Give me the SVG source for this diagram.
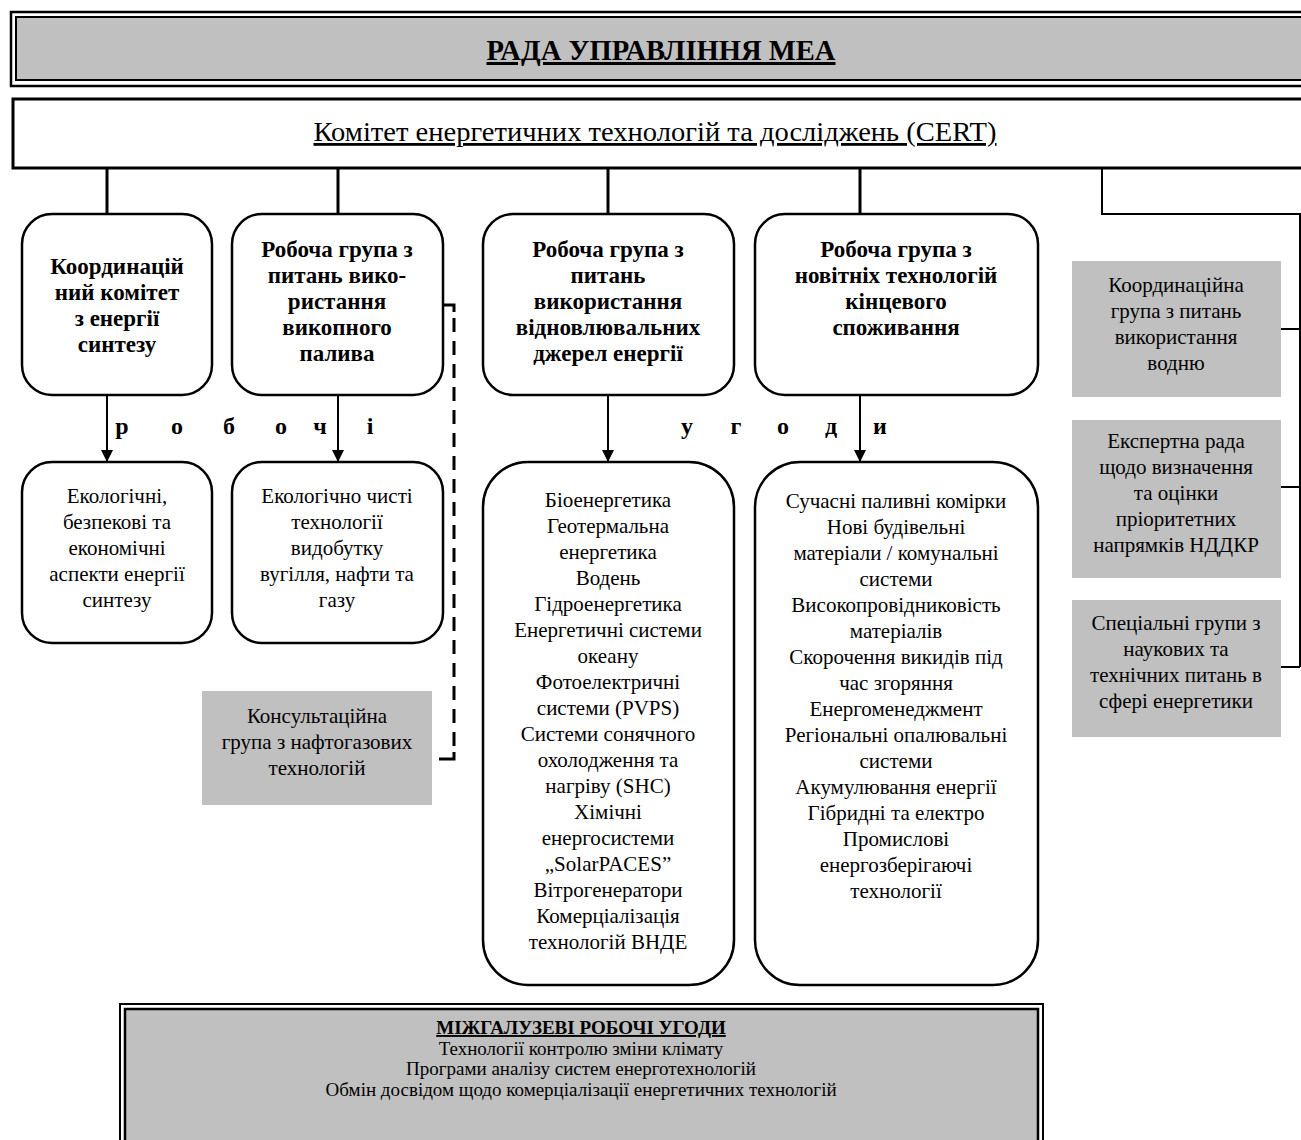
<svg xmlns="http://www.w3.org/2000/svg" width="1301" height="1140" viewBox="0 0 1301 1140">
<defs>
<style>
.t{font-family:"Liberation Serif","Times New Roman",serif;fill:#000;text-anchor:middle}
.b{font-weight:bold;font-size:23px}
.r{font-size:21px}
.lt{font-weight:bold;font-size:24px}
.box{fill:#fff;stroke:#000;stroke-width:2.5}
.gray{fill:#c0c0c0;stroke:none}
.ln{stroke:#000;stroke-width:3;fill:none}
.thin{stroke:#000;stroke-width:2;fill:none}
.arr{stroke:#000;stroke-width:2;fill:none;marker-end:url(#ah)}
.dash{stroke:#000;stroke-width:3;fill:none;stroke-dasharray:14 9}
</style>
<marker id="ah" viewBox="0 0 12 12" refX="12" refY="6" markerWidth="12" markerHeight="12" markerUnits="userSpaceOnUse" orient="auto">
<path d="M0,0 L12,6 L0,12 Z" fill="#000"/>
</marker>
</defs>
<rect width="1301" height="1140" fill="#fff"/>

<g id="header">
<rect x="11" y="12" width="1300" height="74" fill="#fff" stroke="#000" stroke-width="2.5"/>
<rect x="16" y="17" width="1300" height="63" fill="#c0c0c0" stroke="#000" stroke-width="2"/>
<text class="t" x="661" y="60" font-size="30" font-weight="bold" text-decoration="underline" textLength="349" lengthAdjust="spacingAndGlyphs">РАДА УПРАВЛІННЯ МЕА</text>
</g>

<g id="cert">
<rect x="13" y="99" width="1300" height="69" fill="#fff" stroke="#000" stroke-width="3"/>
<text class="t" x="655" y="141" font-size="28" text-decoration="underline" textLength="683" lengthAdjust="spacingAndGlyphs">Комітет енергетичних технологій та досліджень (CERT)</text>
</g>

<g id="connectors">
<line class="ln" x1="107" y1="168" x2="107" y2="214"/>
<line class="ln" x1="338" y1="168" x2="338" y2="214"/>
<line class="ln" x1="608" y1="168" x2="608" y2="214"/>
<line class="ln" x1="860" y1="168" x2="860" y2="214"/>
<polyline class="thin" points="1102,168 1102,214 1300,214 1300,667"/>
<line class="thin" x1="1281" y1="329" x2="1300" y2="329"/>
<line class="thin" x1="1281" y1="487" x2="1300" y2="487"/>
<line class="thin" x1="1281" y1="667" x2="1300" y2="667"/>
<line class="arr" x1="107" y1="395" x2="107" y2="462"/>
<line class="arr" x1="338" y1="395" x2="338" y2="462"/>
<line class="arr" x1="608" y1="395" x2="608" y2="462"/>
<line class="arr" x1="860" y1="395" x2="860" y2="462"/>
<polyline class="ln" points="443,305 454,305 454,312"/>
<line class="dash" x1="454" y1="318" x2="454" y2="752"/>
<polyline class="ln" points="454,752 454,759 439,759"/>
</g>

<g id="label-robochi" class="t lt">
<text x="122" y="434">р</text>
<text x="177" y="434">о</text>
<text x="229" y="434">б</text>
<text x="281" y="434">о</text>
<text x="320" y="434">ч</text>
<text x="370" y="434">і</text>
</g>
<g id="label-ugody" class="t lt">
<text x="687" y="434">у</text>
<text x="736" y="434">г</text>
<text x="783" y="434">о</text>
<text x="831" y="434">д</text>
<text x="880" y="434">и</text>
</g>

<g id="n-fusion">
<rect class="box" x="22" y="214" width="190" height="181" rx="30"/>
<text class="t b"><tspan x="117" y="274">Координацій</tspan><tspan x="117" y="300">ний комітет</tspan><tspan x="117" y="326">з енергії</tspan><tspan x="117" y="352">синтезу</tspan></text>
</g>
<g id="n-fossil">
<rect class="box" x="232" y="214" width="211" height="181" rx="30"/>
<text class="t b"><tspan x="337" y="257">Робоча група з</tspan><tspan x="337" y="283">питань вико-</tspan><tspan x="337" y="309">ристання</tspan><tspan x="337" y="335">викопного</tspan><tspan x="337" y="361">палива</tspan></text>
</g>
<g id="n-renew">
<rect class="box" x="483" y="214" width="251" height="181" rx="30"/>
<text class="t b"><tspan x="608" y="257">Робоча група з</tspan><tspan x="608" y="283">питань</tspan><tspan x="608" y="309">використання</tspan><tspan x="608" y="335">відновлювальних</tspan><tspan x="608" y="361">джерел енергії</tspan></text>
</g>
<g id="n-enduse">
<rect class="box" x="755" y="214" width="283" height="181" rx="30"/>
<text class="t b"><tspan x="896" y="257">Робоча група з</tspan><tspan x="896" y="283">новітніх технологій</tspan><tspan x="896" y="309">кінцевого</tspan><tspan x="896" y="335">споживання</tspan></text>
</g>

<g id="n-fusion-ag">
<rect class="box" x="22" y="462" width="190" height="181" rx="30"/>
<text class="t r"><tspan x="117" y="503">Екологічні,</tspan><tspan x="117" y="529">безпекові та</tspan><tspan x="117" y="555">економічні</tspan><tspan x="117" y="581">аспекти енергії</tspan><tspan x="117" y="607">синтезу</tspan></text>
</g>
<g id="n-fossil-ag">
<rect class="box" x="232" y="462" width="211" height="181" rx="30"/>
<text class="t r"><tspan x="337" y="503">Екологічно чисті</tspan><tspan x="337" y="529">технології</tspan><tspan x="337" y="555">видобутку</tspan><tspan x="337" y="581">вугілля, нафти та</tspan><tspan x="337" y="607">газу</tspan></text>
</g>
<g id="n-renew-ag">
<rect class="box" x="483" y="462" width="251" height="523" rx="45"/>
<text class="t r"><tspan x="608" y="507">Біоенергетика</tspan><tspan x="608" y="533">Геотермальна</tspan><tspan x="608" y="559">енергетика</tspan><tspan x="608" y="585">Водень</tspan><tspan x="608" y="611">Гідроенергетика</tspan><tspan x="608" y="637">Енергетичні системи</tspan><tspan x="608" y="663">океану</tspan><tspan x="608" y="689">Фотоелектричні</tspan><tspan x="608" y="715">системи (PVPS)</tspan><tspan x="608" y="741">Системи сонячного</tspan><tspan x="608" y="767">охолодження та</tspan><tspan x="608" y="793">нагріву (SHC)</tspan><tspan x="608" y="819">Хімічні</tspan><tspan x="608" y="845">енергосистеми</tspan><tspan x="608" y="871">„SolarPACES”</tspan><tspan x="608" y="897">Вітрогенератори</tspan><tspan x="608" y="923">Комерціалізація</tspan><tspan x="608" y="949">технологій ВНДЕ</tspan></text>
</g>
<g id="n-enduse-ag">
<rect class="box" x="755" y="462" width="283" height="523" rx="45"/>
<text class="t r"><tspan x="896" y="508">Сучасні паливні комірки</tspan><tspan x="896" y="534">Нові будівельні</tspan><tspan x="896" y="560">матеріали / комунальні</tspan><tspan x="896" y="586">системи</tspan><tspan x="896" y="612">Високопровідниковість</tspan><tspan x="896" y="638">матеріалів</tspan><tspan x="896" y="664">Скорочення викидів під</tspan><tspan x="896" y="690">час згоряння</tspan><tspan x="896" y="716">Енергоменеджмент</tspan><tspan x="896" y="742">Регіональні опалювальні</tspan><tspan x="896" y="768">системи</tspan><tspan x="896" y="794">Акумулювання енергії</tspan><tspan x="896" y="820">Гібридні та електро</tspan><tspan x="896" y="846">Промислові</tspan><tspan x="896" y="872">енергозберігаючі</tspan><tspan x="896" y="898">технології</tspan></text>
</g>

<g id="n-oilgas">
<rect class="gray" x="202" y="691" width="230" height="114"/>
<text class="t r"><tspan x="317" y="723">Консультаційна</tspan><tspan x="317" y="749">група з нафтогазових</tspan><tspan x="317" y="775">технологій</tspan></text>
</g>

<g id="n-hydrogen">
<rect class="gray" x="1072" y="261" width="209" height="136"/>
<text class="t r"><tspan x="1176" y="292">Координаційна</tspan><tspan x="1176" y="318">група з питань</tspan><tspan x="1176" y="344">використання</tspan><tspan x="1176" y="370">водню</tspan></text>
</g>
<g id="n-experts">
<rect class="gray" x="1072" y="420" width="209" height="158"/>
<text class="t r"><tspan x="1176" y="448">Експертна рада</tspan><tspan x="1176" y="474">щодо визначення</tspan><tspan x="1176" y="500">та оцінки</tspan><tspan x="1176" y="526">пріоритетних</tspan><tspan x="1176" y="552">напрямків НДДКР</tspan></text>
</g>
<g id="n-special">
<rect class="gray" x="1072" y="600" width="209" height="137"/>
<text class="t r"><tspan x="1176" y="630">Спеціальні групи з</tspan><tspan x="1176" y="656">наукових та</tspan><tspan x="1176" y="682">технічних питань в</tspan><tspan x="1176" y="708">сфері енергетики</tspan></text>
</g>

<g id="n-crosscut">
<rect x="120" y="1004" width="923" height="150" fill="#fff" stroke="#000" stroke-width="2"/>
<rect x="125" y="1009" width="913" height="150" fill="#c0c0c0" stroke="#000" stroke-width="2.5"/>
<text class="t" font-size="19"><tspan x="581" y="1034" font-weight="bold" text-decoration="underline">МІЖГАЛУЗЕВІ РОБОЧІ УГОДИ</tspan><tspan x="581" y="1055">Технології контролю зміни клімату</tspan><tspan x="581" y="1075">Програми аналізу систем енерготехнологій</tspan><tspan x="581" y="1096">Обмін досвідом щодо комерціалізації енергетичних технологій</tspan></text>
</g>
</svg>
